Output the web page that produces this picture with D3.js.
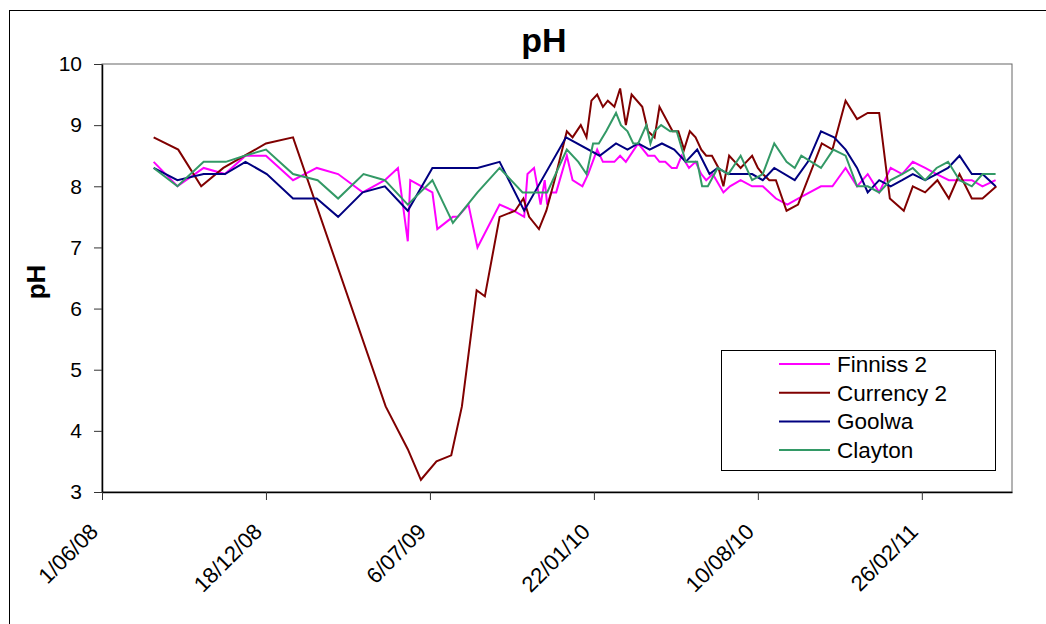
<!DOCTYPE HTML>
<html>
<head>
<meta charset="UTF8">
<title>pH</title>
<script src="https://d3js.org/d3.v7.min.js"></script>
<style>
body { margin: 0; background: white; }
svg text { font-family: "Liberation Sans", Arial, sans-serif; }
</style>
</head>
<body>
<svg></svg>
<script>
// sampling dates are kept as days after 1 June 2008
const startDate = new Date(2008, 5, 1);
const axisEndDay = 1110;
const tickDays = [0, 200, 400, 600, 800, 1000];
const yTicks = [3, 4, 5, 6, 7, 8, 9, 10];
const seriesNames = ["Finniss 2", "Currency 2", "Goolwa", "Clayton"];

const finnissDays = [63, 92, 124, 150, 175, 200, 233, 262, 288, 318, 345, 361, 373, 376, 403, 409, 428, 434, 447, 458,
  485, 502, 515, 519, 527, 535, 540, 543, 548, 554, 567, 574, 586, 593, 604, 611, 625, 632, 639, 654,
  666, 674, 680, 687, 695, 701, 707, 716, 724, 731, 737, 745, 758, 766, 779, 793, 806, 822, 836, 849,
  877, 891, 907, 921, 934, 948, 962, 976, 989, 1004, 1018, 1033, 1046, 1061, 1074, 1090];
const finnissPH = [8.4, 8.0, 8.3, 8.2, 8.5, 8.5, 8.1, 8.3, 8.2, 7.9, 8.1, 8.3, 7.1, 8.1, 7.9, 7.3, 7.5, 7.5, 7.7, 7.0,
  7.7, 7.6, 7.5, 8.2, 8.3, 7.7, 8.1, 7.7, 7.9, 7.9, 8.5, 8.1, 8.0, 8.2, 8.6, 8.4, 8.4, 8.5, 8.4, 8.7,
  8.5, 8.5, 8.4, 8.4, 8.3, 8.3, 8.5, 8.3, 8.4, 8.2, 8.1, 8.2, 7.9, 8.0, 8.1, 8.0, 8.0, 7.8, 7.7, 7.8,
  8.0, 8.0, 8.3, 8.0, 8.2, 7.9, 8.3, 8.2, 8.4, 8.3, 8.2, 8.1, 8.1, 8.1, 8.0, 8.1];

const currencyDays = [63, 93, 121, 148, 174, 200, 233, 346, 373, 389, 408, 426, 439, 457, 467, 485, 504, 514, 521, 533,
  542, 552, 567, 574, 584, 591, 597, 604, 611, 617, 625, 632, 639, 646, 659, 666, 674, 680, 696, 703,
  710, 717, 724, 731, 737, 744, 752, 758, 765, 772, 779, 786, 793, 800, 806, 814, 822, 835, 849, 878,
  891, 907, 921, 934, 948, 961, 978, 989, 1004, 1019, 1033, 1046, 1061, 1074, 1091];
const currencyPH = [8.8, 8.6, 8.0, 8.3, 8.5, 8.7, 8.8, 4.4, 3.7, 3.2, 3.5, 3.6, 4.4, 6.3, 6.2, 7.5, 7.6, 7.8, 7.5, 7.3,
  7.6, 8.1, 8.9, 8.8, 9.0, 8.8, 9.4, 9.5, 9.3, 9.4, 9.3, 9.6, 9.0, 9.5, 9.3, 8.9, 8.8, 9.3, 8.9, 8.9,
  8.6, 8.9, 8.8, 8.6, 8.5, 8.5, 8.3, 8.0, 8.5, 8.4, 8.3, 8.4, 8.5, 8.3, 8.2, 8.1, 8.1, 7.6, 7.7, 8.7,
  8.6, 9.4, 9.1, 9.2, 9.2, 7.8, 7.6, 8.0, 7.9, 8.1, 7.8, 8.2, 7.8, 7.8, 8.0];

const goolwaDays = [63, 92, 124, 150, 175, 201, 233, 262, 288, 318, 345, 373, 403, 458, 485, 515, 566, 607, 627, 641,
  654, 668, 683, 698, 712, 726, 741, 751, 764, 779, 793, 806, 820, 845, 861, 877, 893, 907, 921, 934,
  948, 962, 976, 989, 1004, 1018, 1032, 1046, 1061, 1074, 1090];
const goolwaPH = [8.3, 8.1, 8.2, 8.2, 8.4, 8.2, 7.8, 7.8, 7.5, 7.9, 8.0, 7.6, 8.3, 8.3, 8.4, 7.6, 8.8, 8.5, 8.7, 8.6,
  8.7, 8.6, 8.7, 8.6, 8.4, 8.6, 8.2, 8.3, 8.2, 8.2, 8.2, 8.1, 8.3, 8.1, 8.4, 8.9, 8.8, 8.6, 8.3, 7.9,
  8.1, 8.0, 8.1, 8.2, 8.1, 8.2, 8.3, 8.5, 8.2, 8.2, 8.0];

const claytonDays = [63, 92, 124, 151, 174, 200, 233, 263, 288, 319, 345, 373, 403, 428, 458, 485, 513, 543, 567, 581,
  591, 599, 606, 615, 627, 633, 641, 648, 654, 664, 669, 674, 682, 693, 701, 712, 726, 732, 739, 751,
  764, 779, 793, 806, 820, 835, 845, 853, 877, 892, 907, 921, 934, 948, 962, 976, 989, 1004, 1018, 1032,
  1046, 1061, 1074, 1090];
const claytonPH = [8.3, 8.0, 8.4, 8.4, 8.5, 8.6, 8.2, 8.1, 7.8, 8.2, 8.1, 7.7, 8.1, 7.4, 7.9, 8.3, 7.9, 7.9, 8.6, 8.4,
  8.2, 8.7, 8.7, 8.9, 9.2, 9.0, 8.9, 8.7, 8.7, 9.0, 8.7, 8.9, 9.0, 8.9, 8.9, 8.4, 8.4, 8.0, 8.0, 8.3,
  8.2, 8.5, 8.1, 8.2, 8.7, 8.4, 8.3, 8.5, 8.3, 8.6, 8.5, 8.0, 8.0, 7.9, 8.1, 8.2, 8.3, 8.1, 8.3, 8.4,
  8.1, 8.0, 8.2, 8.2];

const colours = ["#ff00ff", "#800000", "#000080", "#339966"];
const seriesDays = [finnissDays, currencyDays, goolwaDays, claytonDays];
const seriesPH = [finnissPH, currencyPH, goolwaPH, claytonPH];

const w = 1046, h = 624;
const plotLeft = 102, plotRight = 1012, plotTop = 64, plotBottom = 492;
const fontFamily = '"Liberation Sans", Arial, sans-serif';

const day = n => d3.timeDay.offset(startDate, n);

const svg = d3.select("svg").attr("width", w).attr("height", h);

// outer chart border
svg.append("rect")
  .attr("x", 9.5).attr("y", 10.5)
  .attr("width", w + 20).attr("height", h + 20)
  .attr("fill", "white").attr("stroke", "black");

const x = d3.scaleTime().domain([startDate, day(axisEndDay)]).range([plotLeft, plotRight]);
const y = d3.scaleLinear().domain([3, 10]).range([plotBottom, plotTop]);

svg.append("rect")
  .attr("x", plotLeft).attr("y", plotTop)
  .attr("width", plotRight - plotLeft).attr("height", plotBottom - plotTop)
  .attr("fill", "white").attr("stroke", "#666");

const yAxis = svg.append("g")
  .attr("transform", "translate(" + plotLeft + ",0)")
  .call(d3.axisLeft(y).tickValues(yTicks).tickFormat(d3.format("d"))
    .tickSize(8).tickSizeOuter(0).tickPadding(12));
yAxis.selectAll("text").attr("font-size", 21).attr("fill", "black")
  .style("font-family", fontFamily);

const xAxis = svg.append("g")
  .attr("transform", "translate(0," + plotBottom + ")")
  .call(d3.axisBottom(x).tickValues(tickDays.map(day)).tickFormat(d3.timeFormat("%-d/%m/%y"))
    .tickSize(8).tickSizeOuter(0));
xAxis.selectAll("text")
  .attr("font-size", 22).attr("fill", "black")
  .style("font-family", fontFamily)
  .attr("text-anchor", "end")
  .attr("x", 0).attr("y", 0).attr("dy", 0)
  .attr("transform", "translate(-3,41) rotate(-45)");

svg.selectAll(".domain").attr("stroke", "black").attr("stroke-width", 1.5);
svg.selectAll(".tick line").attr("stroke", "#333");

const line = d3.line()
  .x(d => x(day(d[0])))
  .y(d => y(d[1]));

seriesNames.forEach((name, i) => {
  const pts = seriesDays[i].map((d, k) => [d, seriesPH[i][k]]);
  svg.append("path")
    .datum(pts)
    .attr("d", line)
    .attr("fill", "none")
    .attr("stroke", colours[i])
    .attr("stroke-width", 2);
});

// titles
svg.append("text")
  .attr("x", 544).attr("y", 52)
  .attr("text-anchor", "middle")
  .attr("font-size", 34).attr("font-weight", "bold")
  .text("pH");

svg.append("text")
  .attr("transform", "translate(45,282) rotate(-90)")
  .attr("text-anchor", "middle")
  .attr("font-size", 26).attr("font-weight", "bold")
  .text("pH");

// legend
const legend = svg.append("g");
legend.append("rect")
  .attr("x", 721.5).attr("y", 350.5)
  .attr("width", 274).attr("height", 120)
  .attr("fill", "white").attr("stroke", "black");

seriesNames.forEach((name, i) => {
  const ly = 364 + i * 28.7;
  legend.append("line")
    .attr("x1", 779).attr("x2", 830)
    .attr("y1", ly).attr("y2", ly)
    .attr("stroke", colours[i]).attr("stroke-width", 2);
  legend.append("text")
    .attr("x", 837).attr("y", ly)
    .attr("dy", "0.35em")
    .attr("font-size", 22.5)
    .text(name);
});
</script>
</body>
</html>
